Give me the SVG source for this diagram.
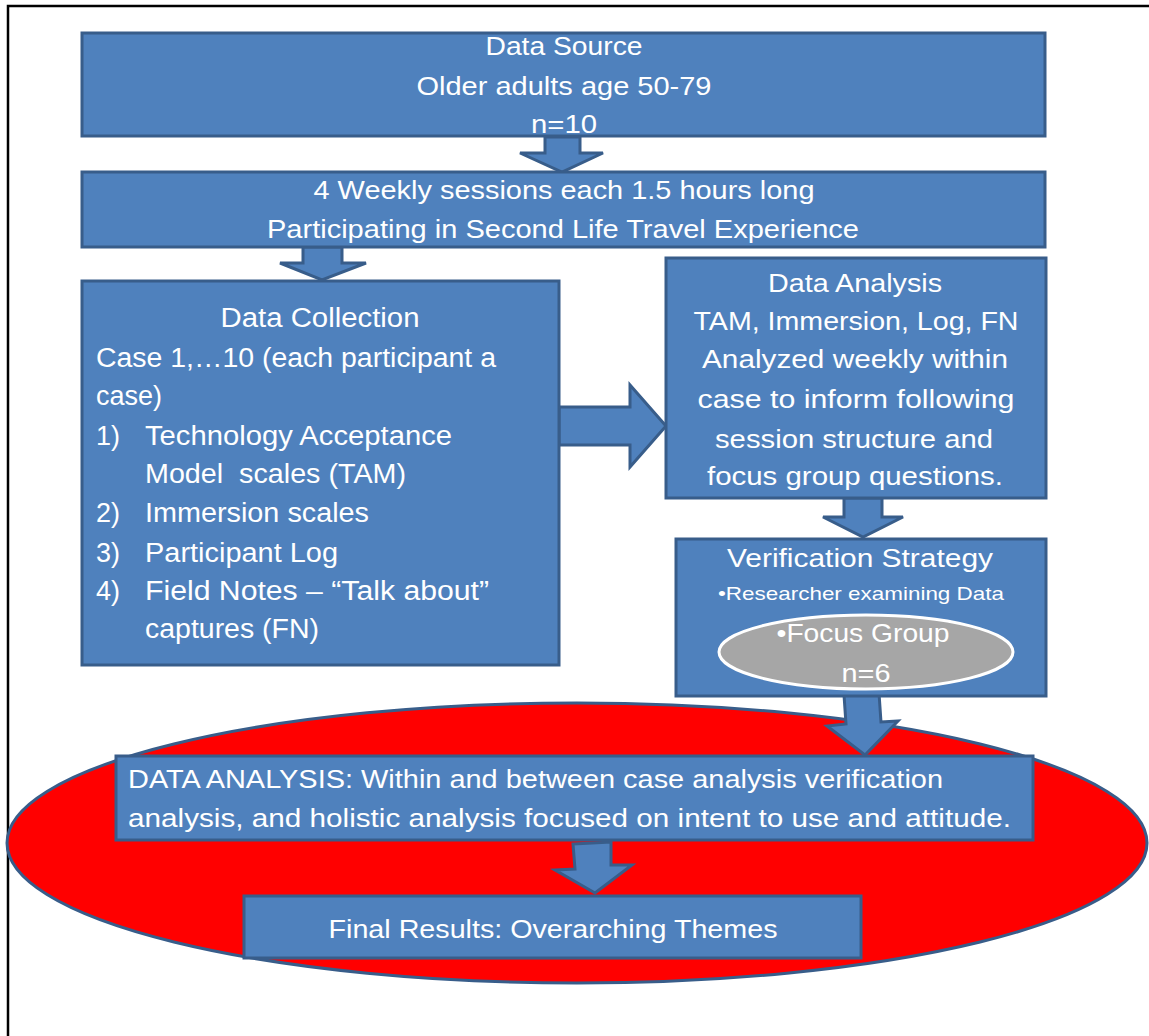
<svg xmlns="http://www.w3.org/2000/svg" width="1149" height="1036" viewBox="0 0 1149 1036">
<style>
.box{fill:#4f81bd;stroke:#385d8a;stroke-width:3}
.arr{fill:#4f81bd;stroke:#385d8a;stroke-width:3;stroke-linejoin:miter}
text{font-family:"Liberation Sans",Arial,sans-serif;fill:#ffffff}
.c{text-anchor:middle}
.f25{font-size:25px}
.f27{font-size:27px}
.f26{font-size:26px}
.f19{font-size:19px}
</style>
<rect x="0" y="0" width="1149" height="1036" fill="#ffffff"/>
<path d="M8,1036 V6 H1149" fill="none" stroke="#000000" stroke-width="2.5"/>

<g id="bigEllipse">
<ellipse cx="577" cy="843" rx="570" ry="140" fill="#ff0000" stroke="#385d8a" stroke-width="3"/>
</g>

<g id="connectors">
<polygon class="arr" points="545,137 580,137 580,153 603,153 562,172 520,153 545,153"/>
<polygon class="arr" points="303,247 342,247 342,263 366,263 322,280 280,263 303,263"/>
<polygon class="arr" points="559,407 630,407 630,385 666,426 630,467 630,445 559,445"/>
<polygon class="arr" points="844,498 882,498 882,517 903,517 863,537 823,517 844,517"/>
<polygon class="arr" points="844,695 879,693 881,722 898,721 865,755 827,726 846,724"/>
<polygon class="arr" points="573,844 611,842 611,865 632,865 595,893 555,870 575,869"/>
</g>

<g id="dataSource">
<rect class="box" x="82" y="33" width="963" height="103"/>
<text class="c f25" x="564" y="55" textLength="157" lengthAdjust="spacingAndGlyphs">Data Source</text>
<text class="c f25" x="564" y="95" textLength="295" lengthAdjust="spacingAndGlyphs">Older adults age 50-79</text>
<text class="c f25" x="564" y="133" textLength="66" lengthAdjust="spacingAndGlyphs">n=10</text>
</g>

<g id="sessions">
<rect class="box" x="82" y="172" width="963" height="75"/>
<text class="c f25" x="564" y="199" textLength="501" lengthAdjust="spacingAndGlyphs">4 Weekly sessions each 1.5 hours long</text>
<text class="c f25" x="563" y="238" textLength="592" lengthAdjust="spacingAndGlyphs">Participating in Second Life Travel Experience</text>
</g>

<g id="dataCollection">
<rect class="box" x="82" y="281" width="477" height="384"/>
<text class="c f27" x="320" y="327" textLength="199" lengthAdjust="spacingAndGlyphs">Data Collection</text>
<text class="f27" x="96" y="367" textLength="400" lengthAdjust="spacingAndGlyphs">Case 1,…10 (each participant a</text>
<text class="f27" x="96" y="405" textLength="66" lengthAdjust="spacingAndGlyphs">case)</text>
<text class="f27" x="96" y="445">1)</text>
<text class="f27" x="145" y="445" textLength="307" lengthAdjust="spacingAndGlyphs">Technology Acceptance</text>
<text class="f27" x="145" y="483" textLength="261" lengthAdjust="spacingAndGlyphs" xml:space="preserve">Model  scales (TAM)</text>
<text class="f27" x="96" y="522">2)</text>
<text class="f27" x="145" y="522" textLength="224" lengthAdjust="spacingAndGlyphs">Immersion scales</text>
<text class="f27" x="96" y="562">3)</text>
<text class="f27" x="145" y="562" textLength="193" lengthAdjust="spacingAndGlyphs">Participant Log</text>
<text class="f27" x="96" y="600">4)</text>
<text class="f27" x="145" y="600" textLength="344" lengthAdjust="spacingAndGlyphs">Field Notes – “Talk about”</text>
<text class="f27" x="145" y="638" textLength="174" lengthAdjust="spacingAndGlyphs">captures (FN)</text>
</g>

<g id="dataAnalysisWeekly">
<rect class="box" x="666" y="258" width="380" height="240"/>
<text class="c f26" x="855" y="292" textLength="174" lengthAdjust="spacingAndGlyphs">Data Analysis</text>
<text class="c f26" x="856" y="330" textLength="325" lengthAdjust="spacingAndGlyphs">TAM, Immersion, Log, FN</text>
<text class="c f26" x="855" y="368" textLength="306" lengthAdjust="spacingAndGlyphs">Analyzed weekly within</text>
<text class="c f26" x="856" y="408" textLength="317" lengthAdjust="spacingAndGlyphs">case to inform following</text>
<text class="c f26" x="854" y="448" textLength="278" lengthAdjust="spacingAndGlyphs">session structure and</text>
<text class="c f26" x="855" y="485" textLength="296" lengthAdjust="spacingAndGlyphs">focus group questions.</text>
</g>

<g id="verification">
<rect class="box" x="676" y="539" width="370" height="157"/>
<text class="c f26" x="860" y="567" textLength="266" lengthAdjust="spacingAndGlyphs">Verification Strategy</text>
<text class="c f19" x="861" y="600" textLength="286" lengthAdjust="spacingAndGlyphs">•Researcher examining Data</text>
</g>

<g id="focusGroup">
<ellipse cx="866" cy="652" rx="147" ry="37" fill="#a6a6a6" stroke="#ffffff" stroke-width="3"/>
<text class="c f26" x="863" y="642" textLength="173" lengthAdjust="spacingAndGlyphs">•Focus Group</text>
<text class="c f26" x="866" y="682" textLength="49" lengthAdjust="spacingAndGlyphs">n=6</text>
</g>

<g id="dataAnalysisFinal">
<rect class="box" x="116" y="756" width="917" height="84"/>
<text class="f25" x="128" y="788" textLength="815" lengthAdjust="spacingAndGlyphs">DATA ANALYSIS: Within and between case analysis verification</text>
<text class="f25" x="128" y="827" textLength="883" lengthAdjust="spacingAndGlyphs">analysis, and holistic analysis focused on intent to use and attitude.</text>
</g>

<g id="finalResults">
<rect class="box" x="244" y="896" width="617" height="62"/>
<text class="c f25" x="553" y="938" textLength="449" lengthAdjust="spacingAndGlyphs">Final Results: Overarching Themes</text>
</g>
</svg>
